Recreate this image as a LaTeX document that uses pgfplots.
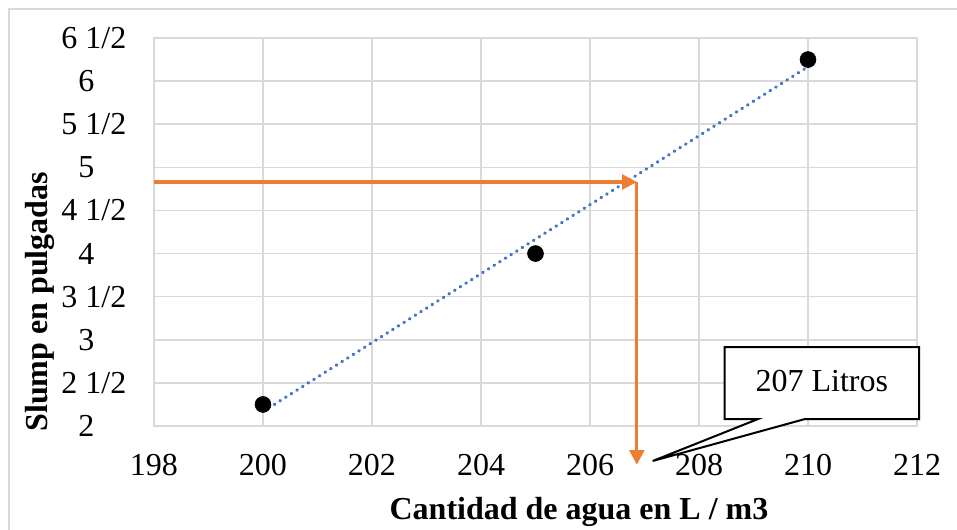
\documentclass[border=0pt]{standalone}
\usepackage{pgfplots}
\pgfplotsset{compat=1.18}
\usepackage{fontspec}
\setmainfont{Liberation Serif}
\usetikzlibrary{arrows.meta}
\definecolor{gridgray}{HTML}{D9D9D9}
\definecolor{xlorange}{HTML}{ED7D31}
\definecolor{xlblue}{HTML}{4472C4}
\begin{document}
\begin{tikzpicture}
\useasboundingbox (-115.5pt,-78pt) rectangle (602.25pt,319.5pt);
\draw[gridgray, line width=1.1pt] (-108.75pt,-80pt) -- (-108.75pt,312.75pt) -- (610pt,312.75pt);
\begin{axis}[
  at={(0,0)}, anchor=south west,
  scale only axis, width=572.25pt, height=291pt,
  xmin=198, xmax=212, ymin=2, ymax=6.5,
  xtick={198,200,...,212},
  ytick={2,2.5,...,6.5},
  yticklabels={2\kern24pt,2 1/2,3\kern24pt,3 1/2,4\kern24pt,4 1/2,5\kern24pt,5 1/2,6\kern24pt,6 1/2},
  xticklabels={198,200,202,204,206,208,210,212},
  /pgf/number format/assume math mode=true,
  grid=major,
  major grid style={gridgray, line width=1.1pt},
  axis line style={gridgray, line width=1.1pt},
  tick style={draw=none},
  xticklabel style={anchor=center, yshift=-29.25pt, font=\fontsize{24}{28}\selectfont},
  yticklabel style={anchor=east, xshift=-17.25pt, font=\fontsize{24}{28}\selectfont},
  clip=false,
]
\addplot[xlblue, line width=2.4pt, line cap=round, dash pattern=on 0.5pt off 4.5pt] coordinates {(200,2.1667) (210,6.1667)};
\addplot[only marks, mark=*, mark size=6pt, black] coordinates {(200,2.25) (205,4) (210,6.25)};
\draw[xlorange, line width=2.3pt, -{Triangle[length=11pt,width=11pt]}] (axis cs:198,4.83) -- (axis cs:206.86,4.83);
\draw[xlorange, line width=2.3pt, -{Triangle[length=11pt,width=11pt]}] (axis cs:206.86,4.83) -- (axis cs:206.86,1.55);
\filldraw[fill=white, draw=black, line width=1.5pt, line join=miter]
  (axis cs:208.47,2.08) -- (axis cs:209.08,2.08) -- (axis cs:207.15,1.594) -- (axis cs:209.94,2.08)
  -- (axis cs:212.04,2.08) -- (axis cs:212.04,2.916) -- (axis cs:208.47,2.916) -- cycle;
\node[font=\fontsize{24}{28}\selectfont] at (axis cs:210.255,2.52) {207 Litros};
\node[font=\bfseries\fontsize{24}{28}\selectfont] at (rel axis cs:0.557,-0.222) {Cantidad de agua en L / m3};
\node[font=\bfseries\fontsize{24}{28}\selectfont, rotate=90] at (rel axis cs:-0.15,0.32) {Slump en pulgadas};
\end{axis}
\end{tikzpicture}
\end{document}
